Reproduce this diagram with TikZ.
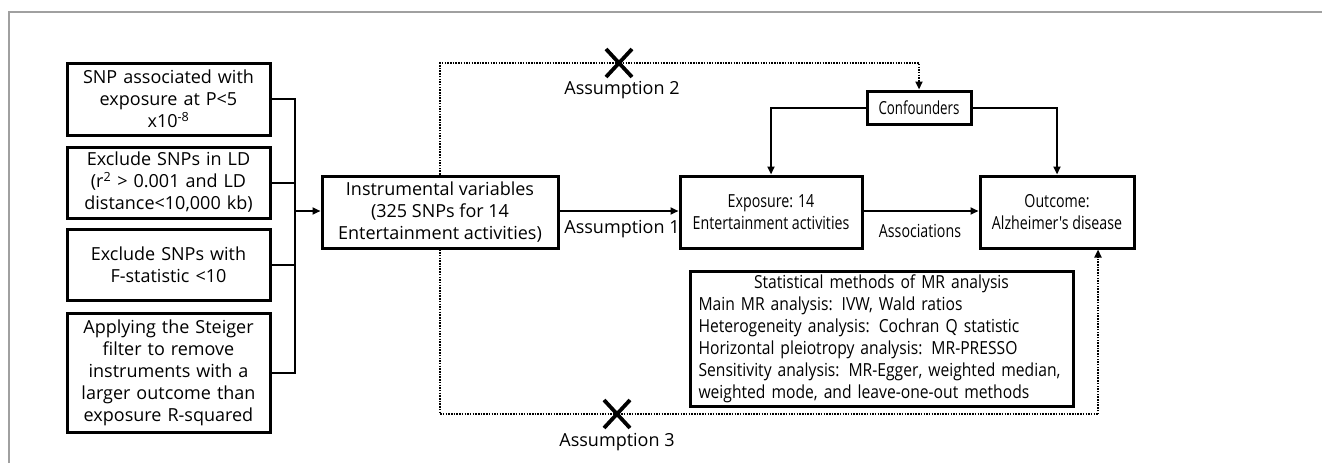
\documentclass[tikz,border=0pt]{standalone}
\usepackage{fontspec}
\setmainfont{Open Sans}
\newfontfamily\narA[FakeStretch=0.79]{Open Sans}
\newfontfamily\narC[FakeStretch=0.74]{Open Sans}
\newfontfamily\narS[FakeStretch=0.87]{Open Sans}
\usetikzlibrary{arrows.meta,calc}
\begin{document}
\begin{tikzpicture}[x=1pt,y=-1pt,
  font=\fontsize{18}{22}\selectfont,
  box/.style={draw, line width=3pt, inner sep=0pt, align=center},
  lbox/.style={box, minimum width=203pt, text width=200pt},
  conn/.style={line width=2pt},
  arr/.style={conn, -{Triangle[length=8pt,width=7pt]}},
  dots/.style={line width=2.2pt, dash pattern=on 1.5pt off 1.2pt},
  darr/.style={dots, -{Triangle[length=8pt,width=7pt]}},
  lab/.style={inner sep=0pt},
  xmark/.style={line width=3.8pt}]
\useasboundingbox (0,0) rectangle (1322,463);
% frame
\draw[line width=1.5pt, draw={rgb,255:red,160;green,160;blue,160}] (9,463) -- (9,12) -- (1322,12);
% left boxes
\node[lbox, minimum height=72pt] (b1) at (168.5,99) {SNP associated with\\exposure at P<5\\x10\textsuperscript{-8}};
\node[lbox, minimum height=71pt] (b2) at (168.5,182.5) {Exclude SNPs in LD\\(r\textsuperscript{2} > 0.001 and LD\\distance<10,000 kb)};
\node[lbox, minimum height=71pt] (b3) at (168.5,264.5) {Exclude SNPs with\\F-statistic <10};
\node[lbox, minimum height=119pt] (b4) at (168.5,372.5) {Applying the Steiger\\filter to remove\\instruments with a\\larger outcome than\\exposure R-squared};
% main boxes
\node[box, minimum width=236pt, minimum height=72pt] (iv) at (440,212) {Instrumental variables\\(325 SNPs for 14\\Entertainment activities)};
\node[box, minimum width=182pt, minimum height=72pt, font=\fontsize{18}{22}\narA] (exp) at (771,212) {Exposure: 14\\Entertainment activities};
\node[box, minimum width=154pt, minimum height=72pt, font=\fontsize{18}{22}\narA] (out) at (1057,212) {Outcome:\\Alzheimer's disease};
\node[box, minimum width=104pt, minimum height=33pt, font=\fontsize{18}{22}\narC] (conf) at (919,107.5) {Confounders};
\node[box, minimum width=383pt, minimum height=135pt, text width=366pt, align=left, font=\fontsize{18}{22}\narS] (stat) at (881.5,338.5)
 {\makebox[366pt][c]{Statistical methods of MR analysis}\\
  Main MR analysis: IVW, Wald ratios\\
  Heterogeneity analysis: Cochran Q statistic\\
  Horizontal pleiotropy analysis: MR-PRESSO\\
  Sensitivity analysis: MR-Egger, weighted median,\\
  weighted mode, and leave-one-out methods};
% bus
\coordinate (bus) at (295,211);
\draw[conn] (b1.east) -| (bus);
\draw[conn] (b2.east) -| (bus);
\draw[conn] (b3.east) -| (bus);
\draw[conn] (b4.east) -| (bus);
\draw[arr] (bus) -- (iv.west |- bus);
% main arrows
\draw[arr] (iv.east |- bus) -- (exp.west |- bus);
\draw[arr] (exp.east |- bus) -- (out.west |- bus);
\draw[arr] (conf.west) -| (exp.north);
\draw[arr] (conf.east) -| (out.north);
% labels
\node[lab, font=\fontsize{18}{22}\selectfont] (a1) at (622,229) {Assumption 1};
\node[lab, font=\fontsize{18}{22}\narA] (as) at (920,231) {Associations};
% dotted top
\coordinate (t2) at (619,63);
\draw[darr] (iv.north) |- (t2) -| (conf.north);
\draw[xmark] ($(t2)+(-13,-14)$) -- ($(t2)+(13,14)$);
\draw[xmark] ($(t2)+(-13,14)$) -- ($(t2)+(13,-14)$);
\node[lab] (a2) at (622,90) {Assumption 2};
% dotted bottom
\coordinate (t3) at (617,414);
\coordinate (o3) at (1098,414);
\draw[dots] (iv.south) |- (t3) -- (o3);
\draw[darr] (o3) -- (o3 |- out.south);
\draw[xmark] ($(t3)+(-13,-14)$) -- ($(t3)+(13,14)$);
\draw[xmark] ($(t3)+(-13,14)$) -- ($(t3)+(13,-14)$);
\node[lab] (a3) at (617,442) {Assumption 3};
\end{tikzpicture}
\end{document}
